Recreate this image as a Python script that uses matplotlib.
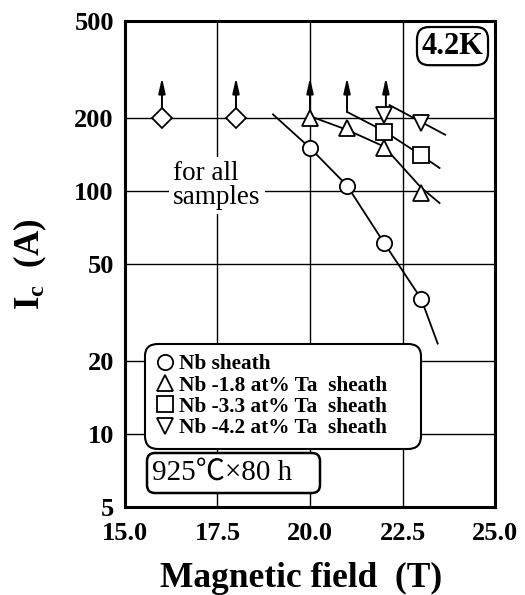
import matplotlib
matplotlib.use("Agg")
import matplotlib.pyplot as plt
from matplotlib.patches import FancyBboxPatch

plt.rcParams['font.family'] = ['Liberation Serif', 'DejaVu Serif']
plt.rcParams['mathtext.fontset'] = 'custom'
plt.rcParams['mathtext.rm'] = 'Liberation Serif:bold'
plt.rcParams['mathtext.it'] = 'Liberation Serif:italic:bold'

# data (field in T, Ic in A)
dia_B = [16.0, 18.0]
dia_I = [200, 200]
nb_B = [20.0, 21.0, 22.0, 23.0]
nb_I = [150, 105, 61, 36]
ta18_B = [20.0, 21.0, 22.0, 23.0]
ta18_I = [200, 182, 150, 98]
ta33_B = [22.0, 23.0]
ta33_I = [175, 140]
ta42_B = [22.0, 23.0]
ta42_I = [205, 190]

# hand drawn guide curves
nb_fit_B = [19.0, 20.0, 21.0, 22.0, 23.0, 23.45]
nb_fit_I = [206, 150, 105, 61, 36, 23.5]
ta18_fit_B = [20.1, 21.0, 22.0, 23.0, 23.5]
ta18_fit_I = [200, 178, 152, 103, 89]
ta33_fit_B = [21.0, 22.0, 23.0, 23.5]
ta33_fit_I = [211, 176, 140, 124]
ta42_fit_B = [22.15, 23.65]
ta42_fit_I = [225, 170]

# "greater than" arrows
arr_B = [16.0, 18.0, 20.0, 21.0, 22.05]
arr_from = [200, 200, 200, 211, 205]
arr_to = [292, 292, 292, 292, 292]

xticks = [15.0, 17.5, 20.0, 22.5, 25.0]
yticks = [5, 10, 20, 50, 100, 200, 500]
labels = ['Nb sheath', 'Nb -1.8 at% Ta  sheath',
          'Nb -3.3 at% Ta  sheath', 'Nb -4.2 at% Ta  sheath']

fig = plt.figure(figsize=(5.25, 5.95), dpi=100)
ax = fig.add_axes([0.238, 0.148, 0.705, 0.817])
ax.set_yscale('log')
ax.set_xlim(15, 25)
ax.set_ylim(5, 500)

ax.set_xticks(xticks)
ax.set_xticklabels(['%.1f' % t for t in xticks])
ax.set_yticks(yticks)
ax.set_yticklabels([str(t) for t in yticks])
ax.minorticks_off()
ax.tick_params(length=0, labelsize=19)
ax.tick_params(axis='x', pad=10.5)
ax.tick_params(axis='y', pad=8)
for lab in ax.get_xticklabels() + ax.get_yticklabels():
    lab.set_fontweight('bold')
ax.grid(True, color='black', lw=1.0)
for s in ax.spines.values():
    s.set_linewidth(2.2)

lw = 1.3
for b, i in [(nb_fit_B, nb_fit_I), (ta18_fit_B, ta18_fit_I),
             (ta33_fit_B, ta33_fit_I), (ta42_fit_B, ta42_fit_I)]:
    ax.plot(b, i, color='black', lw=lw, zorder=3)

for b, i0, i1 in zip(arr_B, arr_from, arr_to):
    ax.annotate('', xy=(b, i1), xytext=(b, i0),
                arrowprops=dict(arrowstyle='-|>,head_length=0.9,head_width=0.2',
                                color='black', lw=1.4, shrinkA=0, shrinkB=0),
                zorder=3)

mk = dict(ls='none', mfc='white', mec='black', mew=1.3, zorder=4)
ax.plot(dia_B, dia_I, marker='D', ms=10, **mk)
h1, = ax.plot(nb_B, nb_I, marker='o', ms=11, label=labels[0], **mk)
h2, = ax.plot(ta18_B, ta18_I, marker='^', ms=12, label=labels[1], **mk)
h3, = ax.plot(ta33_B, ta33_I, marker='s', ms=11, label=labels[2], **mk)
h4, = ax.plot(ta42_B, ta42_I, marker='v', ms=12, label=labels[3], **mk)

ax.text(16.3, 105, 'for all\nsamples', fontsize=19.5, ha='left', va='center',
        linespacing=0.92, zorder=5,
        bbox=dict(fc='white', ec='none', pad=3))

leg = ax.legend(handles=[h1, h2, h3, h4], loc='upper left', mode='expand',
                bbox_to_anchor=(0.067, 0.12, 0.722, 0.207),
                prop=dict(size=15.3, weight='bold'),
                handlelength=0.8, handletextpad=0.3, labelspacing=0.06,
                borderpad=0.3, borderaxespad=0, framealpha=1, fancybox=True)
leg.get_frame().set_edgecolor('black')
leg.get_frame().set_linewidth(1.5)
leg.get_frame().set_boxstyle('round,pad=0.2,rounding_size=0.6')
leg.set_zorder(6)

ax.text(0.885, 0.948, '4.2K', transform=ax.transAxes, fontsize=22,
        fontweight='bold', ha='center', va='center', zorder=6,
        bbox=dict(boxstyle='round,pad=0.15,rounding_size=0.4', fc='white',
                  ec='black', lw=1.6))

# heat treatment note, box placed in figure inches
ax.add_patch(FancyBboxPatch((1.47, 1.02), 1.73, 0.40,
                            boxstyle='round,pad=0,rounding_size=0.08',
                            transform=fig.dpi_scale_trans, fc='white',
                            ec='black', lw=1.8, zorder=6, clip_on=False))
ax.text(1.52, 1.22, '925℃×80 h', transform=fig.dpi_scale_trans, fontsize=21,
        ha='left', va='center', zorder=7,
        family=['Liberation Serif', 'Noto Sans CJK JP'])

ax.set_xlabel('Magnetic field  (T)', fontsize=25.5, fontweight='bold')
ax.xaxis.label.set_verticalalignment('baseline')
ax.xaxis.set_label_coords(0.476, -0.1646)
ax.set_ylabel(r'$\mathrm{I_c}$  (A)', fontsize=25, fontweight='bold')
ax.yaxis.set_label_coords(-0.205, 0.5)

fig.savefig('out.png', dpi=100)
